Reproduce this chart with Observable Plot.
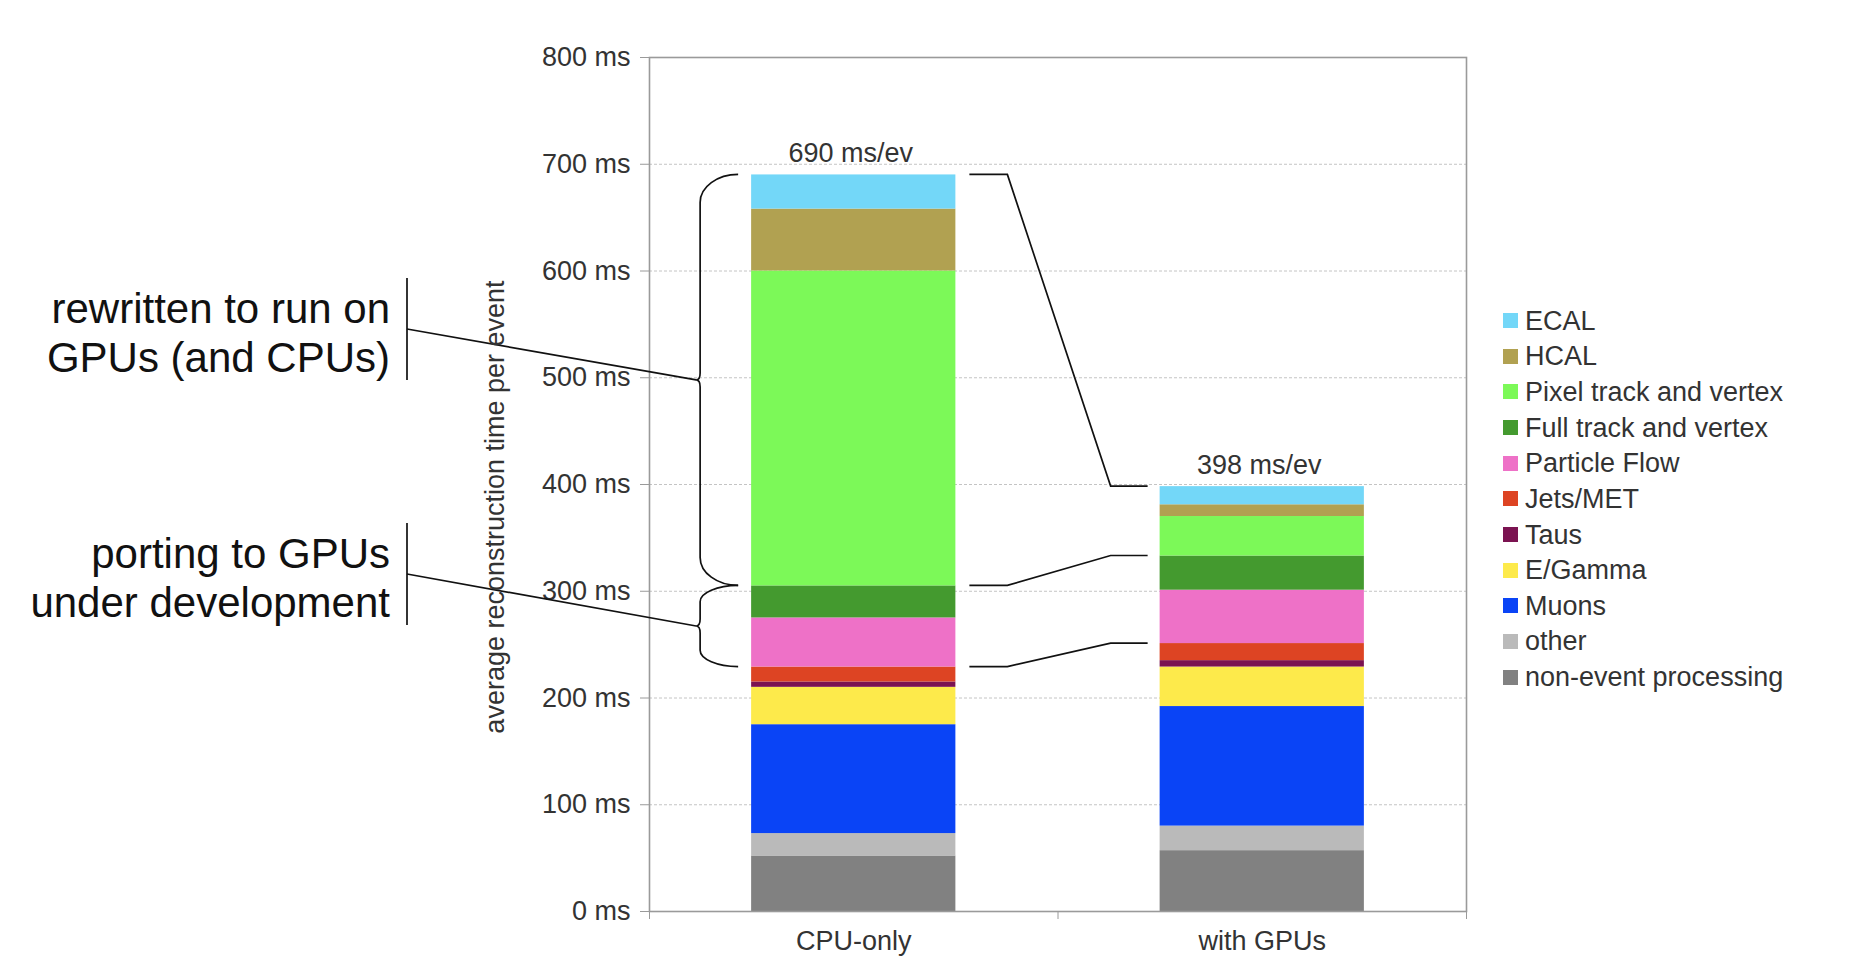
<!DOCTYPE html>
<html><head><meta charset="utf-8">
<script src="https://cdn.jsdelivr.net/npm/d3@7"></script>
<script src="https://cdn.jsdelivr.net/npm/@observablehq/plot@0.6"></script>
<style>
html,body{margin:0;padding:0;background:#fff;}
#wrap{position:relative;width:1862px;height:974px;font-family:"Liberation Sans",Arial,sans-serif;}
#legend{position:absolute;left:1503px;top:0;}
.row{position:absolute;left:0;white-space:nowrap;font-size:27px;color:#333;display:flex;align-items:center;height:30px;line-height:30px;}
.sw{width:15px;height:15px;margin-right:7px;flex:none;}
</style></head><body><div id="wrap"><div id="legend"></div></div>
<script>
// ---- data ----
const categories = ["CPU-only", "with GPUs"];
// stacking order, bottom to top
const components = ["non-event processing", "other", "Muons", "E/Gamma", "Taus", "Jets/MET",
  "Particle Flow", "Full track and vertex", "Pixel track and vertex", "HCAL", "ECAL"];
const colors = ["#818181", "#bababa", "#0a44f6", "#fdea4b", "#7b1351", "#dd4423",
  "#ee71c7", "#449a2f", "#7cf958", "#b1a151", "#73d7f8"];
const cpuTimes = [52, 21, 102, 35, 5, 14, 46, 30, 295, 58, 32];
const gpuTimes = [57, 23, 112, 37, 6, 16, 50, 32, 37, 11, 17];
const totalLabels = ["690 ms/ev", "398 ms/ev"];
const yTicks = [0, 100, 200, 300, 400, 500, 600, 700, 800];
const yLabel = "average reconstruction time per event";
const groupNotes = [
  {lines: ["rewritten to run on", "GPUs (and CPUs)"], first: "Pixel track and vertex", last: "ECAL"},
  {lines: ["porting to GPUs", "under development"], first: "Particle Flow", last: "Full track and vertex"}
];
const linkedLevels = ["ECAL", "Full track and vertex", "Jets/MET"]; // tops joined between bars

// ---- derived tables ----
const series = [cpuTimes, gpuTimes];
const cums = series.map(s => Array.from(d3.cumsum(s)));
const rows = categories.flatMap((c, i) => components.map((k, j) => ({
  category: c, index: i, component: k,
  y1: j ? cums[i][j - 1] : 0, y2: cums[i][j]
})));
const totals = categories.map((c, i) => ({index: i, total: cums[i][components.length - 1], label: totalLabels[i]}));
const topOf = (i, name) => cums[i][components.indexOf(name)];
const bottomOf = (i, name) => { const j = components.indexOf(name); return j ? cums[i][j - 1] : 0; };

// ---- annotation layout (pixels) ----
const L = {noteRight: 390, barX: 407, noteMids: [329, 574], barHalf: 51, lineOffsets: [-6, 43],
  braceGap: 13, braceDepth: 38, connGap: 14, connKnee: 52};

function annotationsMark(index, scales, values, dims) {
  const {x, y} = scales;
  const g = d3.create("svg:g");
  const ink = g.append("g").attr("fill", "none").attr("stroke", "#111").attr("stroke-width", 1.7);
  const cpuLeft = x(0.25), cpuRight = x(0.75), gpuLeft = x(1.25);
  const xEnd = cpuLeft - L.braceGap, xV = xEnd - L.braceDepth;
  groupNotes.forEach((n, k) => {
    const yT = y(topOf(0, n.last)), yB = y(bottomOf(0, n.first)), yM = (yT + yB) / 2;
    const r = Math.min(28, (yB - yT) * 0.2), dx = xEnd - xV;
    const p = `M${xEnd},${yT} C${xEnd - 0.55 * dx},${yT} ${xV},${yT + 0.45 * r} ${xV},${yT + r}` +
      ` L${xV},${yM - 7} Q${xV},${yM} ${xV - 4},${yM} Q${xV},${yM} ${xV},${yM + 7}` +
      ` L${xV},${yB - r} C${xV},${yB - 0.45 * r} ${xEnd - 0.55 * dx},${yB} ${xEnd},${yB}`;
    ink.append("path").attr("d", p);
    const m = L.noteMids[k];
    ink.append("line").attr("x1", L.barX).attr("y1", m - L.barHalf).attr("x2", L.barX).attr("y2", m + L.barHalf);
    ink.append("line").attr("x1", L.barX).attr("y1", m).attr("x2", xV - 4).attr("y2", yM);
    n.lines.forEach((t, li) => {
      g.append("text").attr("x", L.noteRight).attr("y", m + L.lineOffsets[li])
        .attr("text-anchor", "end").attr("font-size", 42).attr("fill", "#111").text(t);
    });
  });
  linkedLevels.forEach(name => {
    const y0 = y(topOf(0, name)), y1 = y(topOf(1, name));
    ink.append("path").attr("d",
      `M${cpuRight + L.connGap},${y0} L${cpuRight + L.connKnee},${y0} L${gpuLeft - L.connKnee + 3},${y1} L${gpuLeft - L.connGap + 2},${y1}`);
  });
  g.append("text").attr("transform", `translate(495,507) rotate(-90)`)
    .attr("text-anchor", "middle").attr("dominant-baseline", "central")
    .attr("font-size", 27).attr("fill", "#333").text(yLabel);
  return g.node();
}

const chart = Plot.plot({
  width: 1862, height: 974,
  marginLeft: 649, marginRight: 396, marginTop: 57, marginBottom: 63,
  style: {fontFamily: "'Liberation Sans', Arial, sans-serif", fontSize: "27px", color: "#333", background: "transparent"},
  x: {domain: [0, 2]},
  y: {domain: [0, 800]},
  color: {domain: components, range: colors},
  marks: [
    Plot.gridY(yTicks, {stroke: "#c4c4c4", strokeOpacity: 1, strokeDasharray: "3,2"}),
    Plot.rect(rows, {x1: d => d.index + 0.25, x2: d => d.index + 0.75, y1: "y1", y2: "y2", fill: "component"}),
    Plot.frame({stroke: "#9a9a9a", strokeWidth: 1.6}),
    Plot.axisY({ticks: yTicks, tickFormat: d => `${d} ms`, tickSize: 9, tickPadding: 10, stroke: "#9a9a9a", fill: "#333", fontSize: 27, label: null}),
    Plot.axisX({ticks: [0, 1, 2], tickFormat: () => "", tickSize: 8, stroke: "#9a9a9a", label: null}),
    Plot.axisX({ticks: [0.5, 1.5], tickFormat: d => categories[Math.floor(d)], tickSize: 0, tickPadding: 19, fill: "#333", fontSize: 27, label: null}),
    Plot.text(totals, {x: d => d.index + 0.5, y: "total", text: "label", dy: -13, dx: -3, lineAnchor: "bottom", fontSize: 27, fill: "#333"}),
    annotationsMark
  ]
});
document.getElementById("wrap").prepend(chart);

const legend = document.getElementById("legend");
components.slice().reverse().forEach((k, i) => {
  const row = document.createElement("div");
  row.className = "row";
  row.style.top = (320.7 + i * 35.64 - 15) + "px";
  const sw = document.createElement("span");
  sw.className = "sw";
  sw.style.background = colors[components.indexOf(k)];
  row.appendChild(sw);
  row.appendChild(document.createTextNode(k));
  legend.appendChild(row);
});
</script></body></html>
